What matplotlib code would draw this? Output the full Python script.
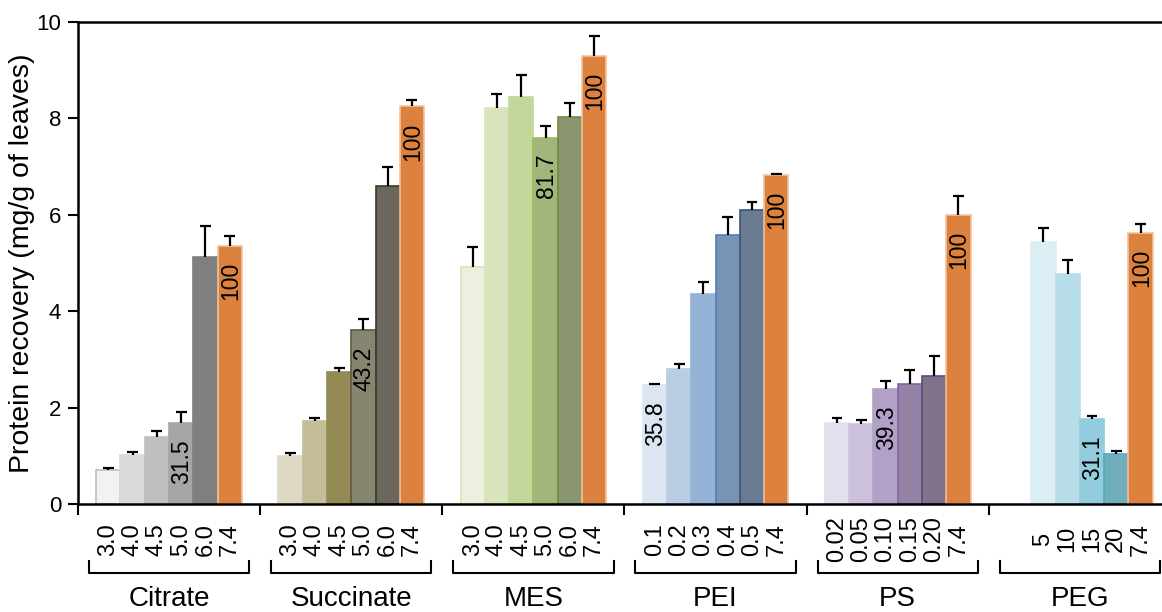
import matplotlib
matplotlib.use("Agg")
import matplotlib.pyplot as plt
import numpy as np

plt.rcParams["font.family"] = ["Liberation Sans", "DejaVu Sans"]

# ── Data ────────────────────────────────────────────────────────────────
GROUPS = ["Citrate", "Succinate", "MES", "PEI", "PS", "PEG"]

TICKS = [
    ["3.0", "4.0", "4.5", "5.0", "6.0", "7.4"],
    ["3.0", "4.0", "4.5", "5.0", "6.0", "7.4"],
    ["3.0", "4.0", "4.5", "5.0", "6.0", "7.4"],
    ["0.1", "0.2", "0.3", "0.4", "0.5", "7.4"],
    ["0.02", "0.05", "0.10", "0.15", "0.20", "7.4"],
    ["5", "10", "15", "20", "7.4"],
]

VALUES = [
    [0.70, 1.02, 1.40, 1.68, 5.13, 5.36],
    [1.00, 1.72, 2.74, 3.60, 6.60, 8.25],
    [4.91, 8.22, 8.44, 7.60, 8.03, 9.29],
    [2.46, 2.80, 4.35, 5.58, 6.10, 6.82],
    [1.68, 1.65, 2.38, 2.49, 2.66, 6.00],
    [5.43, 4.77, 1.76, 1.04, 5.62],
]

ERRORS = [
    [0.05, 0.06, 0.12, 0.22, 0.63, 0.21],
    [0.06, 0.07, 0.08, 0.23, 0.40, 0.14],
    [0.42, 0.29, 0.45, 0.25, 0.28, 0.41],
    [0.03, 0.10, 0.26, 0.38, 0.17, 0.03],
    [0.11, 0.09, 0.17, 0.30, 0.40, 0.38],
    [0.29, 0.30, 0.07, 0.06, 0.19],
]

LABELS = [
    ["", "", "", "31.5", "", "100"],
    ["", "", "", "43.2", "", "100"],
    ["", "", "", "81.7", "", "100"],
    ["35.8", "", "", "", "", "100"],
    ["", "", "39.3", "", "", "100"],
    ["", "", "31.1", "", "100"],
]

ORANGE = "#dd823e"
FILLS = [
    ["#f2f2f2", "#d9d9d9", "#bfbfbf", "#a6a6a6", "#7f7f7f", ORANGE],
    ["#ddd9c3", "#c4bd97", "#948a54", "#858570", "#6b675c", ORANGE],
    ["#ebf1de", "#d8e4bc", "#c4d79b", "#a3b57b", "#8a9670", ORANGE],
    ["#dce6f2", "#b9cde5", "#95b3d7", "#7794b5", "#6a7b94", ORANGE],
    ["#e4dfec", "#ccc1da", "#b2a1c7", "#9483a5", "#7f7389", ORANGE],
    ["#dbeef4", "#b7dee8", "#93cddd", "#71adbb", ORANGE],
]
EDGES = [
    ["#bfbfbf", "#d9d9d9", "#bfbfbf", "#a6a6a6", "#7f7f7f", "#f3c39c"],
    ["#ddd9c3", "#c4bd97", "#948a54", "#5e5b3f", "#3c3a2c", "#f3c39c"],
    ["#d7e4bd", "#d8e4bc", "#c4d79b", "#9bbb59", "#6f8a3e", "#f3c39c"],
    ["#dce6f2", "#b9cde5", "#95b3d7", "#4f81bd", "#3e5478", "#f3c39c"],
    ["#e4dfec", "#ccc1da", "#b2a1c7", "#8064a2", "#5f4b7a", "#f3c39c"],
    ["#dbeef4", "#b7dee8", "#93cddd", "#4bacc6", "#f3c39c"],
]

# ── Layout ──────────────────────────────────────────────────────────────
N_SLOTS = 6
BAR_W = 1.0 / (N_SLOTS + 1.5)
OFFSET = (1.0 - N_SLOTS * BAR_W) / 2
CAP = 0.03   # half cap width, data units

fig = plt.figure(figsize=(11.62, 6.12), dpi=100)
ax = fig.add_axes([0.0671, 0.1765, 0.9406, 0.7876])

for g, vals in enumerate(VALUES):
    start = N_SLOTS - len(vals)
    xs = g + OFFSET + (np.arange(len(vals)) + start + 0.5) * BAR_W
    vals = np.array(vals)
    tops = vals + np.array(ERRORS[g])
    for j, x in enumerate(xs):
        ax.bar(x, vals[j], width=BAR_W, color=FILLS[g][j],
               edgecolor=EDGES[g][j], linewidth=1.2, zorder=2)
    # plus-only error bars
    ax.vlines(xs, vals, tops, color="black", lw=1.6, zorder=3)
    ax.hlines(tops, xs - CAP, xs + CAP, color="black", lw=1.6, zorder=3)
    for j, x in enumerate(xs):
        if LABELS[g][j]:
            ax.annotate(LABELS[g][j], (x, vals[j]), xytext=(0.5, -11.5),
                        textcoords="offset points", rotation=90,
                        ha="center", va="top", fontsize=16.5, zorder=4)
        ax.text(x, -0.073, TICKS[g][j], transform=ax.get_xaxis_transform(),
                rotation=90, ha="center", va="center", fontsize=17)

    # bracket + group name
    ax.plot([g + 0.06, g + 0.06, g + 0.94, g + 0.94],
            [-0.118, -0.143, -0.143, -0.118], color="black", lw=1.5,
            transform=ax.get_xaxis_transform(), clip_on=False)
    ax.text(g + 0.5, -0.197, GROUPS[g], transform=ax.get_xaxis_transform(),
            ha="center", va="center", fontsize=20)

ax.set_xlim(0, len(GROUPS))
ax.set_ylim(0, 10)
ax.set_xticks(np.arange(len(GROUPS) + 1))
ax.set_xticklabels([])
ax.set_yticks(np.arange(0, 11, 2))
ax.tick_params(axis="x", direction="out", length=8, width=1.5)
ax.tick_params(axis="y", direction="out", length=7, width=1.5,
               labelsize=16, pad=5)
ax.set_ylabel("Protein recovery (mg/g of leaves)", fontsize=20.5, labelpad=1)

for side in ["left", "bottom", "top"]:
    ax.spines[side].set_linewidth(1.8)
ax.spines["right"].set_visible(False)

fig.savefig("out.png", dpi=100)
